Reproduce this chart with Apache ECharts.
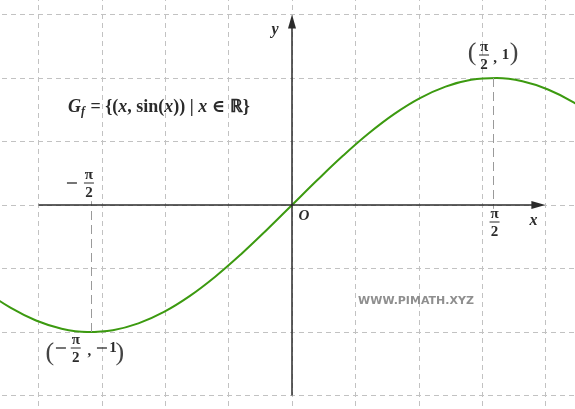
<!DOCTYPE html>
<html>
<head>
<meta charset="utf-8">
<script src="https://cdn.jsdelivr.net/npm/echarts@6/dist/echarts.min.js"></script>
<style>
  html, body { margin: 0; padding: 0; background: #fff; overflow: hidden; width: 575px; height: 409px; }
  /* the drawing is larger than the window: the grid runs past the edges */
  #main { position: absolute; left: -25px; top: -49px; width: 634px; height: 508px; }
</style>
</head>
<body>
<div id="main"></div>
<script>
let curveX = [-2.4, -2.2, -2.0, -1.8, -1.6, -1.4, -1.2, -1.0, -0.8, -0.6, -0.4, -0.2, 0,
              0.2, 0.4, 0.6, 0.8, 1.0, 1.2, 1.4, 1.6, 1.8, 2.0, 2.2, 2.4];
let curveY = [-0.6755, -0.8085, -0.9093, -0.9738, -0.9996, -0.9854, -0.9320, -0.8415, -0.7174, -0.5646, -0.3894, -0.1987, 0,
              0.1987, 0.3894, 0.5646, 0.7174, 0.8415, 0.9320, 0.9854, 0.9996, 0.9738, 0.9093, 0.8085, 0.6755];
// marked extrema
let maxPoint = [1.5708, 1];
let minPoint = [-1.5708, -1];
// axis extents (data units)
let xAxisFrom = -1.98, xAxisTo = 1.925;
let yAxisFrom = -1.5, yAxisTo = 1.445;

let offX = 25, offY = 49; // window corner inside the chart div

let myChart = echarts.init(document.getElementById('main'));
let gridDash = {color: '#c2c2c2', width: 1, type: [5, 4]};
let ink = '#2b2b2b';

let option = {
    animation: false,
    grid: {left: 0, top: 0, right: 0, bottom: 0, show: false},
    xAxis: [
        {
            type: 'value', min: -5, max: 5, interval: 1,
            axisLine: {show: false}, axisTick: {show: false}, axisLabel: {show: false},
            splitLine: {show: true, lineStyle: gridDash}
        },
        {type: 'value', min: -2.4766, max: 2.4766, show: false}
    ],
    yAxis: {
        type: 'value', min: -2, max: 2, interval: 0.5,
        axisLine: {show: false}, axisTick: {show: false}, axisLabel: {show: false},
        splitLine: {show: true, lineStyle: gridDash}
    },
    series: [
        {
            // guide lines to the extrema
            type: 'line', xAxisIndex: 1, data: [],
            markLine: {
                silent: true, symbol: ['none', 'none'],
                label: {show: false},
                lineStyle: {color: '#9a9a9a', width: 1, type: [9, 5]},
                data: [
                    [{coord: [maxPoint[0], maxPoint[1]]}, {coord: [maxPoint[0], -0.03]}],
                    [{coord: [minPoint[0], minPoint[1]]}, {coord: [minPoint[0], 0.03]}]
                ]
            }
        },
        {
            // axes with arrow heads
            type: 'line', xAxisIndex: 1, data: [],
            markLine: {
                silent: true, symbol: ['none', 'triangle'], symbolSize: [8, 14],
                label: {show: false},
                lineStyle: {color: ink, width: 1.5, type: 'solid'},
                data: [
                    [{coord: [xAxisFrom, 0]}, {coord: [xAxisTo, 0]}],
                    [{coord: [0, yAxisFrom]}, {coord: [0, yAxisTo]}]
                ]
            }
        },
        {
            name: 'sin',
            type: 'line', xAxisIndex: 1,
            data: curveX.map((x, i) => [x, curveY[i]]),
            smooth: 0.4, showSymbol: false,
            lineStyle: {color: '#3c9a10', width: 2}
        }
    ]
};
myChart.setOption(option);

function px(p) {
    return myChart.convertToPixel({xAxisIndex: 1, yAxisIndex: 0}, p);
}
let serif = '"Liberation Serif", "DejaVu Serif", serif';
function txt(x, y, s, size, weight, italic, align) {
    return {
        type: 'text', x: x, y: y, z: 10,
        style: {
            text: s, fill: ink, fontFamily: serif, fontSize: size,
            fontWeight: weight || 'bold', fontStyle: italic ? 'italic' : 'normal',
            align: align || 'center', verticalAlign: 'middle'
        }
    };
}
// long math minus sign
function minus(cx, cy) {
    return {type: 'line', z: 10, shape: {x1: cx - 5, y1: cy, x2: cx + 5, y2: cy}, style: {stroke: ink, lineWidth: 1.3}};
}
// pi over 2, centred on its fraction bar
function frac(cx, cy) {
    return [
        txt(cx, cy - 8, 'π', 15),
        {type: 'line', z: 10, shape: {x1: cx - 5, y1: cy, x2: cx + 5, y2: cy}, style: {stroke: ink, lineWidth: 1}},
        txt(cx, cy + 10, '2', 15)
    ];
}
function paren(x, y, s) {
    return {
        type: 'text', x: x, y: y, z: 10,
        style: {text: s, fill: '#444', fontFamily: serif, fontSize: 26, fontWeight: 'normal',
                align: 'center', verticalAlign: 'middle'}
    };
}

let o = px([0, 0]);
let xTip = px([xAxisTo, 0]);
let pTop = px([maxPoint[0], maxPoint[1]]);
let pBot = px([minPoint[0], minPoint[1]]);
let tickR = px([maxPoint[0], 0]);
let tickL = px([minPoint[0], 0]);

let g = [];
g.push(txt(o[0] - 17, offY + 30, 'y', 16, 'bold', true));
g.push(txt(xTip[0] - 5, o[1] + 16, 'x', 16, 'bold', true));
g.push(txt(o[0] + 12, o[1] + 11, 'O', 15, 'bold', true));
// pi/2 under the axis
g = g.concat(frac(tickR[0] + 1.5, o[1] + 17));
// -pi/2 above the axis
g.push(minus(tickL[0] - 19, o[1] - 22));
g = g.concat(frac(tickL[0] - 2, o[1] - 22));
// (pi/2, 1)
g.push(paren(pTop[0] - 21, pTop[1] - 25, '('));
g = g.concat(frac(pTop[0] - 9, pTop[1] - 23));
g.push(txt(pTop[0] + 2, pTop[1] - 20, ',', 15, 'bold'));
g.push(txt(pTop[0] + 12.5, pTop[1] - 23, '1', 15, 'bold'));
g.push(paren(pTop[0] + 21, pTop[1] - 25, ')'));
// (-pi/2, -1)
g.push(paren(pBot[0] - 41, pBot[1] + 21, '('));
g.push(minus(pBot[0] - 30, pBot[1] + 16));
g = g.concat(frac(pBot[0] - 15.2, pBot[1] + 16));
g.push(txt(pBot[0] - 1.6, pBot[1] + 19, ',', 15, 'bold'));
g.push(minus(pBot[0] + 11, pBot[1] + 16));
g.push(txt(pBot[0] + 22, pBot[1] + 16, '1', 15, 'bold'));
g.push(paren(pBot[0] + 29, pBot[1] + 21, ')'));
// set definition
g.push({
    type: 'text', x: offX + 68, y: offY + 107, z: 10,
    style: {
        text: '{i|G}{s|f}{r| = \{(}{i|x}{r|, sin(}{i|x}{r|)) | }{i|x}{r| ∈ ℝ}}',
        fill: ink, fontFamily: serif, fontSize: 18, fontWeight: 'bold',
        align: 'left', verticalAlign: 'middle',
        rich: {
            i: {fontFamily: serif, fontSize: 18, fontWeight: 'bold', fontStyle: 'italic', fill: ink},
            s: {fontFamily: serif, fontSize: 12, fontWeight: 'bold', fontStyle: 'italic', fill: ink, padding: [10, 1, 0, 0]},
            r: {fontFamily: serif, fontSize: 18, fontWeight: 'bold', fill: ink}
        }
    }
});
// watermark
g.push({
    type: 'text', x: offX + 416, y: offY + 301, z: 10,
    style: {text: 'WWW.PIMATH.XYZ', fill: '#8f8f8f', fontFamily: '"DejaVu Sans", sans-serif',
            fontSize: 11, fontWeight: 'bold', align: 'center', verticalAlign: 'middle'}
});

myChart.setOption({graphic: g});
</script>
</body>
</html>
